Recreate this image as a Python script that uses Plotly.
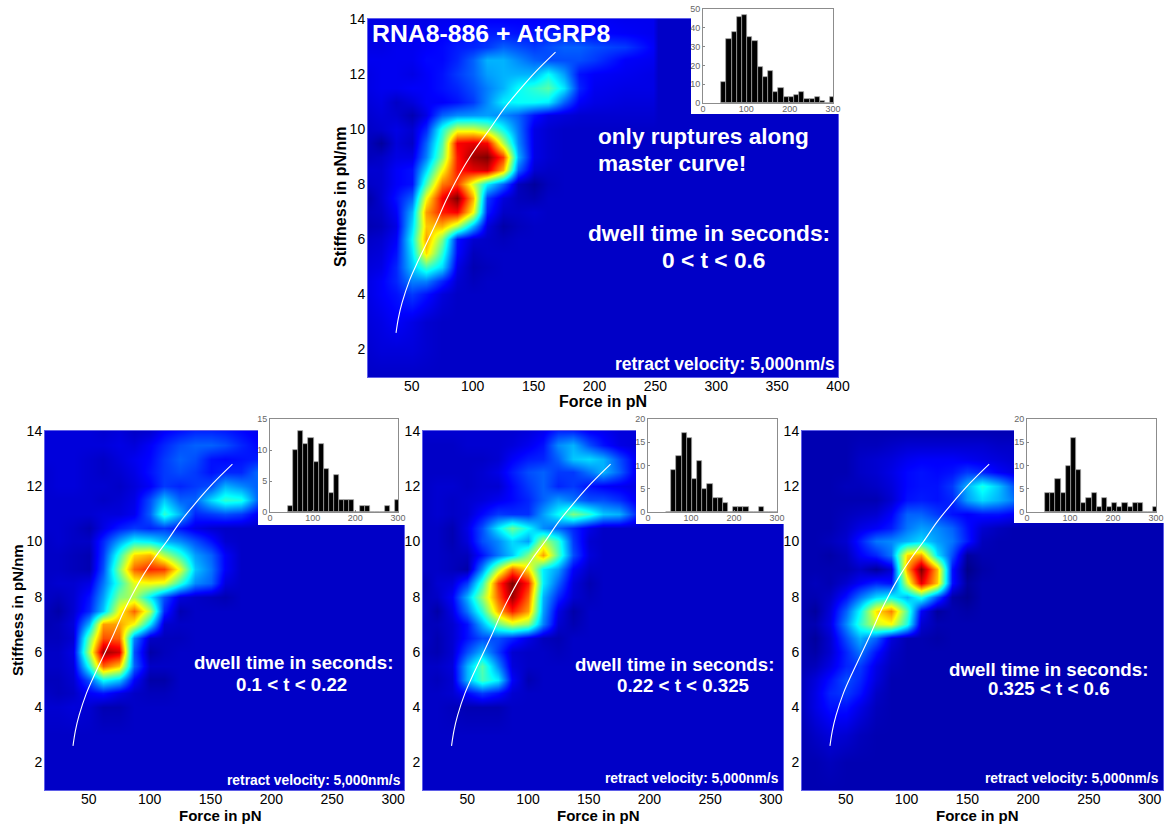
import plotly.graph_objects as go

W, H = 1164, 825

stiffness = [1, 2, 3, 4, 4.5, 5, 5.5, 6, 6.5, 7, 7.5, 8, 8.5, 9, 9.5, 10, 10.5, 11, 11.5, 12, 12.5, 13, 13.5, 14]
force_top = [14, 25, 37, 50, 62, 75, 87, 100, 112, 125, 137, 150, 162, 175, 187, 200, 225, 248, 252, 400]
force_bot = [14, 25, 37, 50, 62, 75, 87, 100, 112, 125, 137, 150, 162, 175, 187, 200, 225, 250, 275, 311]

z_top = [
    [7, 7, 7, 7, 7, 7, 7, 7, 7, 7, 7, 7, 7, 7, 7, 7, 7, 7, 7, 7],
    [8, 9, 9, 9, 8, 7, 7, 7, 7, 7, 7, 7, 7, 7, 7, 7, 7, 7, 7, 7],
    [9, 10, 12, 10, 8, 7, 7, 7, 7, 7, 7, 7, 7, 7, 7, 7, 7, 7, 7, 7],
    [10, 12, 14, 18, 14, 9, 7, 7, 7, 7, 7, 7, 7, 7, 7, 7, 7, 7, 7, 7],
    [10, 12, 16, 25, 25, 16, 8, 6, 7, 7, 7, 7, 7, 7, 7, 7, 7, 7, 7, 7],
    [9, 10, 16, 32, 44, 34, 10, 5, 6, 7, 7, 7, 7, 7, 7, 7, 7, 7, 7, 7],
    [8, 9, 14, 35, 66, 42, 13, 6, 7, 7, 7, 7, 7, 7, 7, 7, 7, 7, 7, 7],
    [7, 8, 12, 38, 72, 50, 14, 8, 7, 6, 7, 7, 7, 7, 7, 7, 7, 7, 7, 7],
    [5, 6, 10, 34, 68, 70, 55, 30, 9, 4, 6, 7, 7, 7, 7, 7, 7, 7, 7, 7],
    [6, 7, 12, 30, 72, 85, 88, 62, 15, 7, 7, 8, 7, 7, 7, 7, 7, 7, 7, 7],
    [4, 8, 14, 22, 62, 88, 100, 70, 18, 9, 6, 5, 7, 7, 7, 7, 7, 7, 7, 7],
    [7, 8, 12, 14, 45, 76, 82, 58, 36, 22, 6, 3, 6, 7, 7, 7, 7, 7, 7, 7],
    [8, 8, 12, 14, 34, 62, 85, 90, 92, 70, 22, 8, 7, 7, 7, 7, 7, 7, 7, 7],
    [6, 7, 10, 10, 25, 50, 85, 97, 100, 82, 30, 10, 8, 7, 7, 7, 7, 7, 7, 7],
    [6, 3, 9, 7, 22, 45, 88, 90, 88, 55, 26, 10, 8, 7, 7, 7, 7, 7, 7, 7],
    [7, 8, 10, 8, 16, 40, 58, 58, 52, 38, 24, 10, 8, 7, 7, 7, 7, 7, 7, 7],
    [8, 9, 8, 5, 10, 22, 26, 27, 28, 26, 22, 14, 10, 9, 8, 8, 8, 8, 7, 7],
    [9, 10, 7, 9, 12, 12, 14, 18, 26, 36, 38, 38, 36, 22, 12, 10, 9, 9, 7, 7],
    [10, 11, 11, 12, 12, 14, 16, 20, 25, 30, 38, 42, 46, 35, 16, 11, 10, 10, 7, 7],
    [10, 11, 11, 10, 12, 14, 18, 22, 28, 30, 30, 30, 38, 28, 14, 12, 11, 10, 7, 7],
    [11, 11, 11, 11, 13, 13, 16, 22, 30, 30, 26, 22, 20, 20, 20, 18, 12, 11, 7, 7],
    [10, 10, 11, 11, 12, 13, 15, 16, 18, 22, 20, 18, 20, 22, 22, 20, 18, 12, 7, 7],
    [10, 10, 11, 11, 11, 12, 13, 14, 15, 15, 14, 14, 15, 15, 14, 13, 12, 11, 7, 7],
    [10, 10, 10, 10, 10, 11, 11, 12, 12, 12, 12, 12, 12, 12, 12, 12, 11, 11, 7, 7],
]

z_left = [
    [7, 7, 7, 7, 7, 7, 7, 7, 7, 7, 7, 7, 7, 7, 7, 7, 7, 7, 7, 7],
    [7, 7, 7, 7, 7, 7, 7, 7, 7, 7, 7, 7, 7, 7, 7, 7, 7, 7, 7, 7],
    [7, 7, 7, 7, 7, 7, 7, 7, 7, 7, 7, 7, 7, 7, 7, 7, 7, 7, 7, 7],
    [8, 8, 9, 8, 5, 5, 7, 7, 7, 7, 7, 7, 7, 7, 7, 7, 7, 7, 7, 7],
    [7, 6, 7, 12, 14, 10, 7, 6, 6, 7, 7, 7, 7, 7, 7, 7, 7, 7, 7, 7],
    [6, 6, 8, 20, 38, 32, 12, 4, 4, 7, 7, 7, 7, 7, 7, 7, 7, 7, 7, 7],
    [7, 7, 9, 40, 78, 68, 22, 7, 7, 7, 7, 7, 7, 7, 7, 7, 7, 7, 7, 7],
    [7, 7, 10, 55, 97, 92, 20, 4, 6, 7, 7, 7, 7, 7, 7, 7, 7, 7, 7, 7],
    [6, 6, 8, 48, 80, 78, 25, 7, 6, 6, 7, 7, 7, 7, 7, 7, 7, 7, 7, 7],
    [5, 6, 9, 30, 72, 72, 62, 35, 8, 7, 7, 7, 7, 7, 7, 7, 7, 7, 7, 7],
    [6, 4, 8, 16, 32, 62, 78, 55, 16, 5, 7, 7, 7, 7, 7, 7, 7, 7, 7, 7],
    [7, 6, 8, 14, 28, 50, 55, 36, 20, 9, 7, 6, 5, 7, 7, 7, 7, 7, 7, 7],
    [7, 8, 8, 10, 24, 42, 60, 62, 60, 42, 26, 22, 9, 7, 7, 7, 7, 7, 7, 7],
    [7, 7, 6, 5, 20, 50, 78, 84, 82, 60, 32, 24, 12, 7, 7, 7, 7, 7, 7, 7],
    [7, 7, 6, 5, 18, 42, 66, 70, 55, 42, 28, 22, 12, 7, 7, 7, 7, 7, 7, 7],
    [7, 8, 7, 7, 16, 28, 38, 36, 30, 26, 20, 14, 8, 7, 7, 7, 7, 7, 7, 7],
    [8, 8, 7, 5, 10, 15, 18, 16, 18, 14, 10, 8, 7, 7, 7, 7, 7, 7, 7, 7],
    [8, 8, 8, 8, 9, 9, 11, 22, 42, 30, 16, 18, 20, 18, 12, 9, 7, 7, 7, 7],
    [8, 8, 8, 8, 7, 8, 10, 20, 32, 22, 22, 34, 42, 40, 24, 12, 10, 8, 7, 7],
    [8, 9, 9, 8, 8, 7, 9, 12, 18, 16, 18, 20, 30, 26, 22, 34, 12, 8, 7, 7],
    [8, 9, 9, 8, 7, 8, 10, 14, 18, 20, 18, 14, 16, 16, 22, 28, 14, 8, 7, 7],
    [9, 9, 9, 8, 7, 9, 11, 13, 18, 22, 20, 14, 13, 14, 15, 16, 12, 8, 7, 7],
    [9, 9, 9, 9, 9, 10, 9, 12, 16, 20, 22, 22, 20, 16, 13, 11, 9, 8, 7, 7],
    [9, 9, 9, 9, 8, 9, 7, 8, 12, 14, 16, 16, 15, 13, 11, 9, 8, 8, 7, 7],
]

z_mid = [
    [7, 7, 7, 7, 7, 7, 7, 7, 7, 7, 7, 7, 7, 7, 7, 7, 7, 7, 7, 7],
    [7, 7, 7, 7, 7, 7, 7, 7, 7, 7, 7, 7, 7, 7, 7, 7, 7, 7, 7, 7],
    [7, 7, 7, 7, 7, 7, 7, 7, 7, 7, 7, 7, 7, 7, 7, 7, 7, 7, 7, 7],
    [7, 7, 6, 5, 5, 5, 7, 7, 7, 7, 7, 7, 7, 7, 7, 7, 7, 7, 7, 7],
    [7, 7, 8, 13, 18, 14, 8, 7, 7, 7, 7, 7, 7, 7, 7, 7, 7, 7, 7, 7],
    [7, 6, 8, 30, 44, 36, 12, 5, 7, 7, 7, 7, 7, 7, 7, 7, 7, 7, 7, 7],
    [7, 7, 9, 30, 46, 26, 9, 7, 7, 7, 7, 7, 7, 7, 7, 7, 7, 7, 7, 7],
    [6, 5, 8, 20, 30, 18, 8, 7, 7, 6, 7, 7, 7, 7, 7, 7, 7, 7, 7, 7],
    [7, 5, 8, 14, 20, 20, 16, 10, 6, 5, 7, 7, 7, 7, 7, 7, 7, 7, 7, 7],
    [6, 6, 8, 14, 30, 48, 58, 52, 25, 8, 5, 7, 7, 7, 7, 7, 7, 7, 7, 7],
    [7, 4, 10, 24, 42, 70, 85, 72, 28, 10, 4, 7, 7, 7, 7, 7, 7, 7, 7, 7],
    [6, 7, 12, 30, 52, 78, 97, 78, 30, 16, 8, 6, 7, 7, 7, 7, 7, 7, 7, 7],
    [5, 8, 9, 18, 42, 82, 100, 85, 36, 22, 9, 5, 7, 7, 7, 7, 7, 7, 7, 7],
    [7, 7, 6, 4, 26, 55, 78, 65, 36, 28, 12, 7, 7, 7, 7, 7, 7, 7, 7, 7],
    [7, 7, 6, 6, 14, 24, 32, 50, 72, 45, 20, 9, 7, 7, 7, 7, 7, 7, 7, 7],
    [7, 7, 5, 9, 20, 26, 34, 28, 55, 42, 18, 8, 7, 7, 7, 7, 7, 7, 7, 7],
    [7, 7, 5, 10, 20, 36, 48, 38, 26, 22, 16, 10, 7, 7, 7, 7, 7, 7, 7, 7],
    [7, 8, 7, 8, 13, 18, 17, 17, 28, 38, 50, 42, 32, 30, 18, 9, 7, 7, 7, 7],
    [7, 8, 7, 8, 9, 11, 13, 16, 22, 28, 24, 20, 20, 17, 12, 9, 8, 7, 7, 7],
    [7, 8, 8, 7, 8, 8, 13, 18, 22, 16, 18, 14, 12, 11, 10, 9, 8, 7, 7, 7],
    [7, 7, 7, 7, 8, 10, 15, 20, 22, 18, 18, 24, 30, 22, 12, 10, 8, 7, 7, 7],
    [7, 7, 7, 7, 7, 8, 12, 15, 16, 22, 32, 34, 30, 20, 12, 9, 8, 7, 7, 7],
    [7, 7, 7, 8, 8, 8, 9, 11, 14, 26, 30, 20, 14, 10, 9, 8, 8, 7, 7, 7],
    [8, 8, 8, 8, 8, 8, 8, 9, 11, 16, 16, 12, 11, 9, 9, 8, 8, 7, 7, 7],
]

z_right = [
    [5, 5, 5, 5, 5, 5, 5, 5, 5, 5, 5, 5, 5, 5, 5, 5, 5, 5, 5, 5],
    [5, 5, 6, 5, 5, 5, 5, 5, 5, 5, 5, 5, 5, 5, 5, 5, 5, 5, 5, 5],
    [5, 7, 9, 8, 6, 5, 5, 5, 5, 5, 5, 5, 5, 5, 5, 5, 5, 5, 5, 5],
    [6, 10, 14, 14, 10, 6, 5, 5, 5, 5, 5, 5, 5, 5, 5, 5, 5, 5, 5, 5],
    [6, 10, 16, 18, 14, 7, 5, 5, 5, 5, 5, 5, 5, 5, 5, 5, 5, 5, 5, 5],
    [6, 9, 14, 20, 16, 9, 5, 5, 5, 5, 5, 5, 5, 5, 5, 5, 5, 5, 5, 5],
    [5, 6, 10, 16, 18, 10, 6, 5, 5, 5, 5, 5, 5, 5, 5, 5, 5, 5, 5, 5],
    [5, 4, 8, 16, 24, 14, 7, 5, 5, 5, 5, 5, 5, 5, 5, 5, 5, 5, 5, 5],
    [5, 3, 8, 20, 30, 22, 9, 5, 5, 4, 5, 5, 5, 5, 5, 5, 5, 5, 5, 5],
    [5, 5, 10, 26, 42, 58, 62, 40, 8, 5, 5, 5, 5, 5, 5, 5, 5, 5, 5, 5],
    [5, 3, 9, 22, 38, 65, 75, 45, 12, 3, 5, 4, 5, 5, 5, 5, 5, 5, 5, 5],
    [5, 5, 7, 14, 24, 34, 38, 30, 40, 20, 4, 2, 5, 5, 5, 5, 5, 5, 5, 5],
    [5, 6, 5, 8, 12, 16, 14, 58, 90, 68, 14, 3, 5, 5, 5, 5, 5, 5, 5, 5],
    [5, 5, 5, 5, 7, 3, 8, 72, 100, 70, 14, 1, 4, 5, 5, 5, 5, 5, 5, 5],
    [5, 5, 4, 6, 12, 16, 24, 66, 72, 35, 20, 3, 5, 5, 5, 5, 5, 5, 5, 5],
    [5, 5, 6, 8, 15, 24, 26, 30, 34, 28, 24, 15, 6, 5, 5, 5, 5, 5, 5, 5],
    [5, 5, 5, 7, 10, 12, 15, 24, 28, 26, 22, 14, 8, 6, 5, 5, 5, 5, 5, 5],
    [5, 5, 5, 6, 7, 8, 12, 22, 22, 18, 14, 12, 14, 14, 12, 8, 6, 5, 5, 5],
    [5, 5, 5, 5, 5, 5, 8, 14, 15, 14, 16, 28, 34, 30, 25, 10, 6, 5, 5, 5],
    [5, 5, 5, 6, 6, 7, 9, 13, 14, 14, 18, 30, 40, 32, 22, 14, 8, 6, 5, 5],
    [5, 5, 5, 5, 7, 8, 10, 13, 14, 13, 14, 18, 16, 12, 10, 8, 6, 5, 5, 5],
    [5, 5, 5, 5, 7, 8, 9, 11, 12, 12, 12, 11, 10, 9, 8, 7, 6, 5, 5, 5],
    [5, 5, 5, 5, 6, 6, 7, 8, 8, 8, 8, 8, 8, 7, 7, 6, 5, 5, 5, 5],
    [5, 5, 5, 5, 5, 5, 5, 5, 5, 5, 5, 5, 5, 5, 5, 5, 5, 5, 5, 5],
]

curve_force = [37, 39, 42, 48, 55, 62, 70, 78, 86, 95, 104, 114, 125, 136, 152, 168]
curve_stiff = [2.6, 3.15, 3.7, 4.5, 5.2, 5.85, 6.6, 7.4, 8.1, 8.8, 9.4, 10.0, 10.7, 11.3, 12.1, 12.8]

hist_bins = [48, 60, 72, 84, 96, 108, 120, 132, 144, 156, 168, 180, 192, 204, 216, 228, 240, 252, 264, 276, 288, 300]
hist_top = [11, 34, 38, 46, 47, 35, 33, 19, 14, 17, 6, 8, 3, 3, 4, 6, 2, 2, 3, 1, 0, 3]
hist_left = [1, 10, 13, 11, 12, 8, 11, 7, 3, 6, 2, 2, 2, 0, 1, 1, 0, 0, 0, 1, 0, 2]
hist_mid = [0, 9, 12, 17, 16, 7, 11, 5, 6, 3, 3, 2, 0, 1, 1, 1, 0, 0, 1, 0, 0, 0]
hist_right = [4, 4, 7, 4, 10, 16, 9, 2, 3, 4, 1, 3, 1, 2, 1, 2, 1, 2, 2, 0, 0, 1]

jet = [[0, "#00007f"], [0.125, "#0000ff"], [0.375, "#00ffff"], [0.625, "#ffff00"], [0.875, "#ff0000"], [1, "#7f0000"]]
FONT = "Liberation Sans"

panels = [
    dict(f=force_top, z=z_top, xr=[14, 400], xt=[50, 100, 150, 200, 250, 300, 350, 400], box=(368, 838, 19, 377),
         white=(691, 840, 0, 114), ins=(703, 833, 9, 103), ymax=50, dy=10, h=hist_top),
    dict(f=force_bot, z=z_left, xr=[14, 309], xt=[50, 100, 150, 200, 250, 300], box=(45, 404, 431, 790),
         white=(258, 406, 412, 525), ins=(270, 398, 419, 512), ymax=15, dy=5, h=hist_left),
    dict(f=force_bot, z=z_mid, xr=[13.5, 310], xt=[50, 100, 150, 200, 250, 300], box=(423, 783, 431, 790),
         white=(636, 785, 412, 524), ins=(648, 777, 419, 512), ymax=20, dy=5, h=hist_mid),
    dict(f=force_bot, z=z_right, xr=[14, 311], xt=[50, 100, 150, 200, 250, 300], box=(802, 1163, 431, 790),
         white=(1014, 1164, 412, 523), ins=(1027, 1156, 419, 512), ymax=20, dy=5, h=hist_right),
]


def dx(p):
    return p / W


def dy(p):
    return 1 - p / H


fig = go.Figure()
layout = {}
n = 1
for p in panels:
    a, b, c = n, n + 1, n + 2
    n += 3
    L, R, T, B = p["box"]
    fig.add_trace(go.Heatmap(x=p["f"], y=stiffness, z=p["z"], zmin=0, zmax=100, colorscale=jet, zsmooth="best",
                             showscale=False, xaxis=f"x{a}", yaxis=f"y{a}", hoverinfo="skip"))
    fig.add_trace(go.Scatter(x=curve_force, y=curve_stiff, mode="lines", line=dict(color="white", width=1.1, shape="spline"),
                             xaxis=f"x{a}", yaxis=f"y{a}", hoverinfo="skip"))
    layout[f"xaxis{a}"] = dict(domain=[dx(L), dx(R)], range=p["xr"], anchor=f"y{a}", tickvals=p["xt"], ticks="", automargin=False,
                               ticklabelstandoff=-4, tickfont=dict(size=14, color="black", family=FONT), showgrid=False, zeroline=False,
                               showline=True, mirror=True, linecolor="#5f5fe8", linewidth=1)
    layout[f"yaxis{a}"] = dict(domain=[dy(B), dy(T)], range=[1, 14], anchor=f"x{a}", tickvals=[2, 4, 6, 8, 10, 12, 14], ticks="", automargin=False,
                               ticklabelstandoff=-1, tickfont=dict(size=14, color="black", family=FONT), showgrid=False, zeroline=False,
                               showline=True, mirror=True, linecolor="#5f5fe8", linewidth=1)
    # white backing box behind each inset
    wl, wr, wt, wb = p["white"]
    fig.add_trace(go.Scatter(x=[0, 1, 1, 0, 0], y=[0, 0, 1, 1, 0], mode="lines", fill="toself", fillcolor="white",
                             line=dict(width=0), xaxis=f"x{b}", yaxis=f"y{b}", hoverinfo="skip"))
    layout[f"xaxis{b}"] = dict(domain=[dx(wl), dx(wr)], range=[0, 1], anchor=f"y{b}", visible=False, automargin=False)
    layout[f"yaxis{b}"] = dict(domain=[dy(wb), dy(wt)], range=[0, 1], anchor=f"x{b}", visible=False, automargin=False)
    il, ir, it, ib = p["ins"]
    fig.add_trace(go.Bar(x=hist_bins, y=p["h"], width=12, marker=dict(color="black", line=dict(color="#a8a8a8", width=0.7)),
                         xaxis=f"x{c}", yaxis=f"y{c}", hoverinfo="skip"))
    tf = dict(size=9, color="#666666", family=FONT)
    layout[f"xaxis{c}"] = dict(domain=[dx(il), dx(ir)], range=[0, 300], anchor=f"y{c}", tickvals=[0, 100, 200, 300], ticks="inside",
                               ticklen=2, tickcolor="#888888", tickfont=tf, showgrid=False, zeroline=False, showline=True,
                               ticklabelstandoff=-3, mirror=True, linecolor="#8c8c8c", linewidth=1, automargin=False)
    layout[f"yaxis{c}"] = dict(domain=[dy(ib), dy(it)], range=[0, p["ymax"]], anchor=f"x{c}", dtick=p["dy"], ticks="inside",
                               ticklen=2, tickcolor="#888888", tickfont=tf, showgrid=False, zeroline=False, showline=True,
                               mirror=True, linecolor="#8c8c8c", linewidth=1, automargin=False)

# label text, anchor, pixel x, pixel y, size, colour, bold, rotation
labels = [
    ("RNA8-886 + AtGRP8", "left", 370, 33, 24.8, "white", True, 0),
    ("only ruptures along", "left", 596, 137, 22.6, "white", True, 0),
    ("master curve!", "left", 596, 164, 22.6, "white", True, 0),
    ("dwell time in seconds:", "left", 586, 233, 22.7, "white", True, 0),
    ("0 < t < 0.6", "left", 660, 260, 22.7, "white", True, 0),
    ("retract velocity: 5,000nm/s", "right", 837, 364, 17.5, "white", True, 0),
    ("Force in pN", "center", 603, 401, 16, "black", True, 0),
    ("Stiffness in pN/nm", "center", 340, 197, 16, "black", True, -90),
    ("dwell time in seconds:", "left", 192, 662, 18.7, "white", True, 0),
    ("0.1 < t < 0.22", "left", 234, 684, 18.7, "white", True, 0),
    ("retract velocity: 5,000nm/s", "right", 403, 780, 13.8, "white", True, 0),
    ("Force in pN", "center", 220, 815, 15, "black", True, 0),
    ("Stiffness in pN/nm", "center", 17, 610, 15, "black", True, -90),
    ("dwell time in seconds:", "left", 573, 664, 18.7, "white", True, 0),
    ("0.22 < t < 0.325", "left", 615, 685, 18.7, "white", True, 0),
    ("retract velocity: 5,000nm/s", "right", 781, 778, 13.8, "white", True, 0),
    ("Force in pN", "center", 598, 815, 15, "black", True, 0),
    ("dwell time in seconds:", "left", 947, 669, 18.7, "white", True, 0),
    ("0.325 < t < 0.6", "left", 986, 688, 18.7, "white", True, 0),
    ("retract velocity: 5,000nm/s", "right", 1161, 778, 13.8, "white", True, 0),
    ("Force in pN", "center", 977, 815, 15, "black", True, 0),
]
annotations = [
    dict(text=f"<b>{t}</b>" if bold else t, xref="paper", yref="paper", x=dx(px), y=dy(py), xanchor=anc, yanchor="middle",
         showarrow=False, textangle=rot, font=dict(size=size, color=col, family=FONT))
    for t, anc, px, py, size, col, bold, rot in labels
]

fig.update_layout(width=W, height=H, margin=dict(l=0, r=0, t=0, b=0), paper_bgcolor="white", plot_bgcolor="white",
                  showlegend=False, bargap=0, annotations=annotations, **layout)
fig.write_html("out.html", config={"displayModeBar": False},
               post_script="document.body.style.margin='0';document.documentElement.style.overflow='hidden';")
